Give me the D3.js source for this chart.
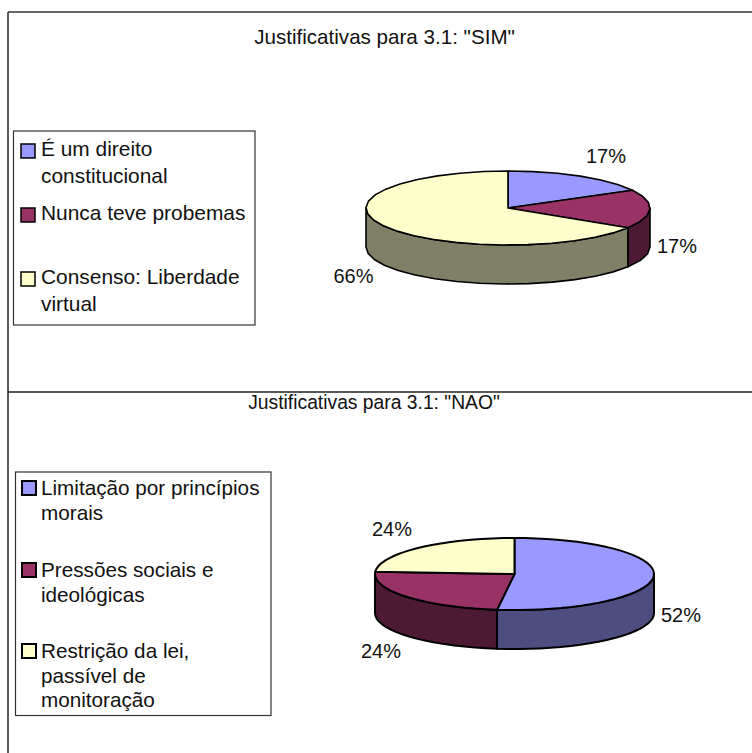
<!DOCTYPE html>
<html>
<head>
<meta charset="utf-8">
<script src="https://cdn.jsdelivr.net/npm/d3@7"></script>
<style>
  html, body { margin: 0; padding: 0; background: #fff; }
  svg { display: block; }
  text { font-family: "Liberation Sans", Arial, sans-serif; fill: #111; }
</style>
</head>
<body>
<svg id="chart" width="752" height="753"></svg>
<script>
// Values
const simCategories = ["É um direito|constitucional", "Nunca teve probemas", "Consenso: Liberdade|virtual"];
const simValues = [17, 17, 66];
const naoCategories = ["Limitação por princípios|morais", "Pressões sociais e|ideológicas", "Restrição da lei,|passível de|monitoração"];
const naoValues = [52, 24, 24];
const sliceColors = ["#9999ff", "#993366", "#ffffcc"];
const wallColors = ["#4d4d80", "#4d1a33", "#808066"];

const svg = d3.select("#chart");

// Frame runs off the right and bottom of the page, only top, left and the divider show
svg.append("line").attr("x1", 8).attr("x2", 752).attr("y1", 12).attr("y2", 12)
    .attr("stroke", "#333").attr("stroke-width", 1.6);
svg.append("line").attr("x1", 8).attr("x2", 8).attr("y1", 12).attr("y2", 753)
    .attr("stroke", "#333").attr("stroke-width", 1.6);
svg.append("line").attr("x1", 8).attr("x2", 752).attr("y1", 392).attr("y2", 392)
    .attr("stroke", "#222").attr("stroke-width", 1.6);

function drawPie(cfg, values) {
    const g = svg.append("g").attr("transform", `translate(${cfg.cx},${cfg.cy})`);
    const arcs = d3.pie().sort(null)(values);

    // flattened disc: angle 0 is 12 o'clock, going clockwise
    const px = a => cfg.rx * Math.sin(a);
    const py = a => -cfg.ry * Math.cos(a);
    const sample = (a0, a1) => {
        const n = Math.max(1, Math.round((a1 - a0) / cfg.step));
        return d3.range(n + 1).map(i => a0 + (a1 - a0) * i / n);
    };
    const rim = d3.line().x(px).y(py);

    // walls, only the front half of the disc shows
    arcs.forEach((d, i) => {
        const a0 = Math.max(d.startAngle, Math.PI / 2);
        const a1 = Math.min(d.endAngle, Math.PI * 1.5);
        if (a1 <= a0) return;
        const wall = d3.area().x(px).y0(py).y1(a => py(a) + cfg.depth);
        g.append("path").attr("d", wall(sample(a0, a1)))
            .attr("fill", wallColors[i]).attr("stroke", "#000").attr("stroke-width", cfg.stroke)
            .attr("stroke-linejoin", "round");
    });

    // top faces
    arcs.forEach((d, i) => {
        const edge = rim(sample(d.startAngle, d.endAngle));
        g.append("path").attr("d", "M0,0L" + edge.slice(1) + "Z")
            .attr("fill", sliceColors[i]).attr("stroke", "#000").attr("stroke-width", cfg.stroke)
            .attr("stroke-linejoin", "round");
    });

    svg.append("text").attr("x", cfg.titleX).attr("y", cfg.titleY)
        .attr("text-anchor", "middle").attr("font-size", cfg.titleSize).text(cfg.title);

    cfg.labels.forEach((p, i) => {
        svg.append("text").attr("x", p[0]).attr("y", p[1])
            .attr("text-anchor", "middle").attr("font-size", 20).text(values[i] + "%");
    });
}

function drawLegend(cfg, categories) {
    const g = svg.append("g");
    g.append("rect").attr("x", cfg.x).attr("y", cfg.y).attr("width", cfg.w).attr("height", cfg.h)
        .attr("fill", "#fff").attr("stroke", "#333").attr("stroke-width", 1.2);
    categories.forEach((c, i) => {
        const lines = c.split("|");
        const y = cfg.rows[i];
        g.append("rect").attr("x", cfg.swatchX).attr("y", y + cfg.swatchDy).attr("width", cfg.swatch).attr("height", cfg.swatch)
            .attr("fill", sliceColors[i]).attr("stroke", "#000").attr("stroke-width", cfg.swatchStroke);
        lines.forEach((t, j) => {
            g.append("text").attr("x", cfg.textX).attr("y", y + j * cfg.lineH)
                .attr("font-size", cfg.fontSize).text(t);
        });
    });
}

drawPie({
    cx: 508, cy: 208, rx: 142, ry: 37, depth: 39, step: Math.PI / 18, stroke: 1.6,
    title: 'Justificativas para 3.1: "SIM"', titleX: 384.5, titleY: 44, titleSize: 20.6,
    labels: [[606, 163], [677, 253], [353.5, 283]]
}, simValues);

drawPie({
    cx: 514.5, cy: 574, rx: 139.5, ry: 36, depth: 39, step: Math.PI / 40, stroke: 2,
    title: 'Justificativas para 3.1: "NAO"', titleX: 374, titleY: 409, titleSize: 19.3,
    labels: [[681, 622], [381, 658], [392, 536]]
}, naoValues);

drawLegend({
    x: 13.5, y: 131, w: 241.5, h: 194, textX: 41, lineH: 27, fontSize: 20.9,
    swatchX: 21, swatch: 14, swatchDy: -12, swatchStroke: 1.5,
    rows: [156, 220, 284]
}, simCategories);

drawLegend({
    x: 15.5, y: 472, w: 255.5, h: 243.5, textX: 41, lineH: 24.5, fontSize: 20.7,
    swatchX: 22, swatch: 14, swatchDy: -14, swatchStroke: 2,
    rows: [495, 577, 658]
}, naoCategories);
</script>
</body>
</html>
